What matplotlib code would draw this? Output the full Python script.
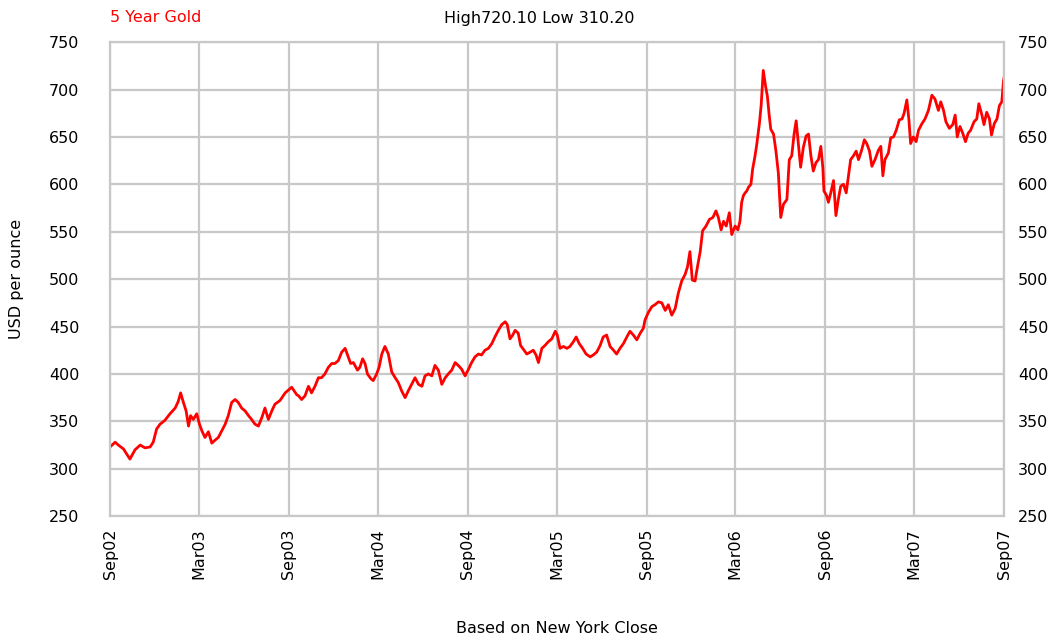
import matplotlib
matplotlib.use("Agg")
import matplotlib.pyplot as plt
import matplotlib.dates as mdates
import pandas as pd

# weeks since start (Sep 2002) and gold price
weeks = [
    0.0, 1.5, 2.4, 3.9, 5.8, 7.3, 8.8, 10.2, 11.7, 12.6, 13.6, 14.6, 16.0, 17.5, 19.0, 19.9,
    20.6, 21.4, 22.2, 22.9, 23.5, 24.3, 25.3, 26.1, 26.8, 27.7, 28.7, 29.7, 30.6, 31.6, 32.6,
    33.6, 34.5, 35.5, 36.5, 37.4, 38.4, 39.4, 40.4, 41.3, 42.3, 43.3, 44.3, 45.2, 46.2, 47.2,
    48.1, 49.6, 51.1, 53.0, 54.5,
    55.0, 55.9, 56.9, 57.9, 58.8, 59.8, 60.8, 61.7, 62.7, 63.7, 64.7, 65.6, 66.6, 67.6, 68.6,
    69.5, 70.2, 71.0, 72.2, 72.9, 73.7, 74.4, 75.1, 76.1, 76.8, 77.8, 78.5, 79.3, 80.2, 81.2,
    82.2, 83.2, 84.1, 85.1, 86.1, 87.0, 88.0, 89.0, 90.0, 91.0, 91.9, 92.9, 93.9, 94.8, 95.8,
    96.8, 97.8, 98.7, 99.7, 100.7, 101.6, 102.6, 103.6, 104.6,
    105.5, 106.5, 107.5, 108.4, 109.4, 110.4, 111.4, 112.3, 113.3, 114.3, 115.3, 115.9, 116.7,
    117.5, 118.2, 119.1, 119.8, 120.8, 121.6, 122.6, 123.5, 124.3, 125.0, 126.0, 126.9, 127.9,
    128.9, 129.9, 130.5, 131.3, 132.3, 133.3, 134.2, 135.2, 136.0, 136.9, 137.9, 138.9, 140.1,
    141.0, 142.0, 143.0, 143.9, 144.9, 145.9, 146.9, 147.8, 148.8, 149.8, 150.8, 151.7, 152.7,
    153.7, 154.7, 155.6,
    156.1, 157.1, 158.1, 159.0, 160.0, 161.0, 162.0, 162.9, 163.9, 164.9, 165.8, 166.8, 167.8,
    168.5, 169.2, 169.9, 170.7, 171.4, 172.2, 172.9, 173.9, 174.9, 175.9, 176.8, 177.5, 178.3,
    179.0, 179.8, 180.7, 181.4, 182.4, 183.2, 183.8, 184.3, 184.8, 185.3, 185.8, 186.3, 187.0,
    187.5, 188.2, 188.7, 189.5, 190.0, 190.6, 191.3, 191.8, 192.3, 192.8, 193.6, 194.3, 195.0,
    195.7, 196.5, 197.5, 198.2, 198.9, 199.6, 200.2, 200.9, 201.5, 202.3, 203.1, 203.8, 204.5,
    205.2, 206.0, 206.7, 207.4, 208.0, 208.3, 209.1, 209.6, 210.3, 211.1, 211.8, 212.5, 213.2,
    214.0, 214.8, 215.4, 216.1,
    216.9, 217.7, 218.4, 219.3, 220.1, 220.8, 221.6, 222.3, 223.2, 224.2, 224.9, 225.5, 226.1,
    227.1, 227.8, 228.6, 229.4, 230.3, 231.1, 231.7, 232.5, 233.1, 233.6, 234.4, 235.2, 235.9,
    236.9, 237.8, 238.8, 239.8, 240.7, 241.7, 242.4, 243.2, 243.9, 244.9, 245.9, 246.6, 247.2,
    248.0, 248.8, 249.6, 250.4, 251.1, 252.1, 252.9, 253.5, 254.4, 255.0, 255.8, 256.6, 257.2,
    258.0, 258.8, 259.5, 260.2, 260.7, 260.9,
]
price = [
    323, 328, 325, 321, 310.2, 320, 325, 322, 323, 328, 342, 347, 351, 358, 364, 371,
    380, 370, 361, 345, 356, 352, 358, 347, 340, 333, 339, 327, 330, 333, 340,
    347, 356, 370, 373, 370, 364, 361, 356, 352, 347, 345, 354, 364, 352, 361,
    368, 372, 380, 386, 378,
    377, 373, 377, 387, 380, 387, 396, 396, 400, 407, 411, 411, 414, 423, 427,
    418, 411, 412, 404, 407, 416, 411, 400, 395, 393, 400, 407, 421, 429, 421,
    402, 396, 391, 382, 375, 382, 389, 396, 389, 387, 398, 400, 398, 409, 404,
    389, 396, 400, 404, 412, 409, 405, 398, 405,
    412, 418, 421, 420, 425, 427, 432, 439, 446, 452, 455, 452, 437,
    441, 446, 443, 430, 425, 421, 423, 425, 420, 412, 427, 430, 434,
    437, 445, 441, 427, 429, 427, 429, 434, 439, 432, 427, 421, 418,
    420, 423, 430, 439, 441, 429, 425, 421, 427, 432, 439, 445, 441,
    436, 443, 448,
    457, 465, 471, 473, 476, 475, 467, 473, 462, 469, 485, 498, 505,
    513, 529, 499, 498, 513, 529, 551, 556, 563, 565, 572, 565, 552,
    561, 556, 570, 547, 556, 552, 561, 581, 588, 591, 593, 597, 600,
    616, 630, 642, 665, 684, 720.1, 703, 693, 674, 658, 653, 635, 612,
    565, 579, 584, 626, 630, 653, 667, 640, 618, 639, 651, 653, 630,
    614, 623, 626, 640, 617, 593, 588, 581, 591, 604, 567, 584, 598,
    600, 591, 607, 626,
    630, 635, 626, 636, 647, 643, 635, 619, 626, 636, 640, 609, 626,
    633, 649, 650, 657, 668, 669, 675, 689, 668, 643, 650, 645, 657,
    664, 669, 678, 694, 690, 678, 687, 678, 666, 659, 663, 673, 650,
    661, 654, 645, 654, 657, 666, 669, 685, 673, 663, 676, 669, 652,
    664, 669, 683, 687, 709, 713,
]

start = pd.Timestamp("2002-09-01")
end = pd.Timestamp("2007-09-01")
dates = start + pd.to_timedelta([w * 7 for w in weeks], unit="D")
tick_dates = pd.date_range(start, end, freq="6MS")
yticks = list(range(250, 751, 50))

plt.rcParams["font.family"] = "DejaVu Sans"
grid_col = "#c8c8c8"
fs = 11.5

fig = plt.figure(figsize=(10.58, 6.38), dpi=100)
ax = fig.add_axes([0.104, 0.191, 0.845, 0.743])

ax.plot(dates, price, color="#ff0000", linewidth=2.0)

ax.set_xlim(start, end)
ax.set_ylim(250, 750)
ax.set_yticks(yticks)
ax.set_xticks(tick_dates)
ax.xaxis.set_major_formatter(mdates.DateFormatter("%b%y"))
ax.grid(True, color=grid_col, linewidth=1.6)
for s in ax.spines.values():
    s.set_color(grid_col)
    s.set_linewidth(1.6)

ax.tick_params(axis="both", length=0, labelsize=fs, colors="#000000")
ax.tick_params(axis="y", pad=22)
ax.tick_params(axis="x", pad=9)
plt.setp(ax.get_xticklabels(), rotation=90, va="top", ha="center")

# same scale repeated on the right, closer to the frame
ax2 = ax.twinx()
ax2.set_ylim(ax.get_ylim())
ax2.set_yticks(yticks)
ax2.tick_params(axis="y", length=0, labelsize=fs, pad=10)
for s in ax2.spines.values():
    s.set_visible(False)

ax.set_ylabel("USD per ounce", fontsize=fs, labelpad=18)
ax.set_xlabel("Based on New York Close", fontsize=fs, labelpad=30)

fig.text(0.104, 1 - 18 / 638, "5 Year Gold", color="#ff0000", fontsize=fs, va="center", ha="left")
fig.text(0.51, 1 - 18 / 638, "High720.10 Low 310.20", color="#000000", fontsize=fs, va="center", ha="center")

fig.savefig("out.png", dpi=100)
